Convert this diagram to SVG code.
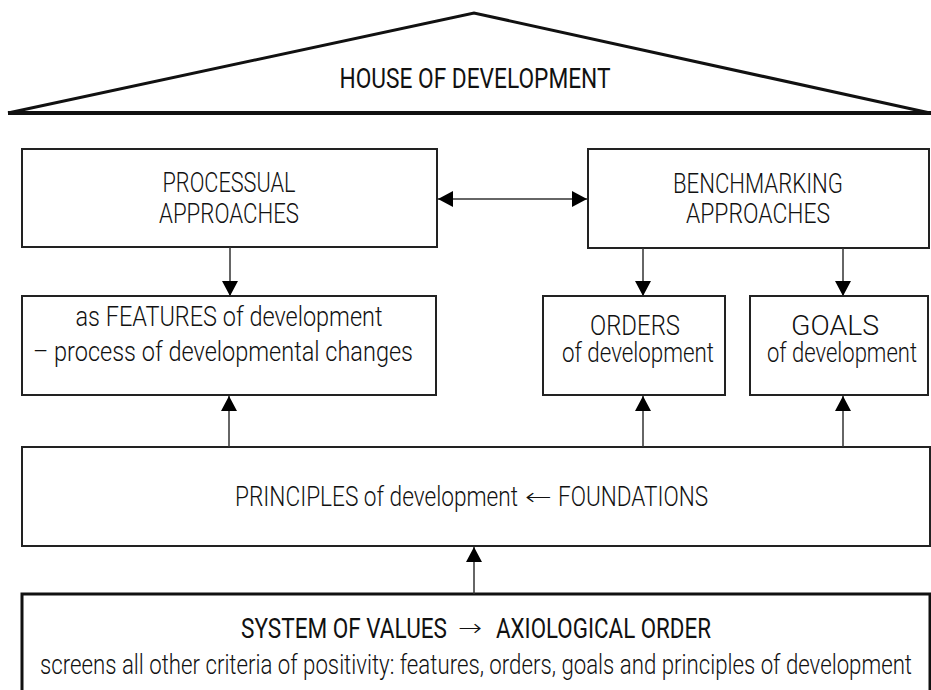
<svg xmlns="http://www.w3.org/2000/svg" width="931" height="690" viewBox="0 0 931 690">
  <style>
    .box { fill: #ffffff; stroke: #222222; stroke-width: 2; }
    .base { fill: #ffffff; stroke: #111111; stroke-width: 3; }
    .roof { fill: none; stroke: #111111; stroke-width: 3; stroke-linejoin: miter; }
    .link { fill: none; stroke: #333333; stroke-width: 1.5; }
    text { font-family: Roboto, "Liberation Sans", "DejaVu Sans", sans-serif; fill: #111111; text-anchor: middle; }
    .lt { font-weight: 300; font-size: 27px; }
    .rg { font-weight: 400; font-size: 27px; }
    .st { text-anchor: start; }
    .arr { font-family: "DejaVu Sans", sans-serif; font-weight: 300; font-size: 24px; text-anchor: start; }
  </style>
  <defs>
    <marker id="head" markerUnits="userSpaceOnUse" markerWidth="16" markerHeight="16" refX="15" refY="8" orient="auto-start-reverse">
      <path d="M0,0 L15,8 L0,16 Z" fill="#000000"/>
    </marker>
  </defs>

  <!-- roof -->
  <g id="roof">
    <polyline class="roof" points="8,113 474,13 930,113"/>
    <line x1="8" y1="113" x2="931" y2="113" stroke="#111111" stroke-width="4"/>
    <text class="rg" x="475" y="88" font-size="28" textLength="271" lengthAdjust="spacingAndGlyphs">HOUSE OF DEVELOPMENT</text>
  </g>

  <!-- upper row -->
  <g id="processual">
    <rect class="box" x="22" y="149" width="415" height="98"/>
    <text class="lt" x="229" y="192" textLength="133" lengthAdjust="spacingAndGlyphs">PROCESSUAL</text>
    <text class="lt" x="229" y="223" textLength="140" lengthAdjust="spacingAndGlyphs">APPROACHES</text>
  </g>
  <g id="benchmarking">
    <rect class="box" x="588" y="149" width="341" height="99"/>
    <text class="lt" x="758" y="193" textLength="170" lengthAdjust="spacingAndGlyphs">BENCHMARKING</text>
    <text class="lt" x="758" y="223" textLength="144" lengthAdjust="spacingAndGlyphs">APPROACHES</text>
  </g>

  <!-- middle row -->
  <g id="features">
    <rect class="box" x="22" y="296" width="414" height="99"/>
    <text class="lt" x="229" y="326" textLength="307" lengthAdjust="spacingAndGlyphs">as FEATURES of development</text>
    <text class="lt" x="223" y="361" textLength="380" lengthAdjust="spacingAndGlyphs">– process of developmental changes</text>
  </g>
  <g id="orders">
    <rect class="box" x="543" y="296" width="182" height="99"/>
    <text class="lt" x="635" y="335" textLength="90" lengthAdjust="spacingAndGlyphs">ORDERS</text>
    <text class="lt" x="638" y="362" textLength="152" lengthAdjust="spacingAndGlyphs">of development</text>
  </g>
  <g id="goals">
    <rect class="box" x="750" y="296" width="178" height="99"/>
    <text class="lt" x="835" y="335" textLength="88" lengthAdjust="spacingAndGlyphs">GOALS</text>
    <text class="lt" x="842" y="362" textLength="150" lengthAdjust="spacingAndGlyphs">of development</text>
  </g>

  <!-- principles -->
  <g id="principles">
    <rect class="box" x="22" y="447" width="908" height="99"/>
    <text class="lt st" x="235" y="506" textLength="283" lengthAdjust="spacingAndGlyphs">PRINCIPLES of development</text>
    <text class="arr" x="525" y="505" textLength="27" lengthAdjust="spacingAndGlyphs">←</text>
    <text class="lt st" x="558" y="506" textLength="150" lengthAdjust="spacingAndGlyphs">FOUNDATIONS</text>
  </g>

  <!-- foundation -->
  <g id="values">
    <rect class="base" x="22" y="594" width="908" height="110"/>
    <text class="rg st" x="241" y="638" textLength="206" lengthAdjust="spacingAndGlyphs">SYSTEM OF VALUES</text>
    <text class="arr" x="458" y="636" textLength="24" lengthAdjust="spacingAndGlyphs">→</text>
    <text class="rg st" x="496" y="638" textLength="215" lengthAdjust="spacingAndGlyphs">AXIOLOGICAL ORDER</text>
    <text class="lt" x="476" y="674" textLength="872" lengthAdjust="spacingAndGlyphs">screens all other criteria of positivity: features, orders, goals and principles of development</text>
  </g>

  <!-- connectors -->
  <g id="connectors">
    <line class="link" x1="438" y1="199" x2="587" y2="199" marker-start="url(#head)" marker-end="url(#head)"/>
    <line class="link" x1="230" y1="247" x2="230" y2="296" marker-end="url(#head)"/>
    <line class="link" x1="643" y1="248" x2="643" y2="296" marker-end="url(#head)"/>
    <line class="link" x1="843" y1="248" x2="843" y2="296" marker-end="url(#head)"/>
    <line class="link" x1="229" y1="447" x2="229" y2="396" marker-end="url(#head)"/>
    <line class="link" x1="643" y1="447" x2="643" y2="396" marker-end="url(#head)"/>
    <line class="link" x1="843" y1="447" x2="843" y2="396" marker-end="url(#head)"/>
    <line class="link" x1="474" y1="594" x2="474" y2="547" marker-end="url(#head)"/>
  </g>
</svg>
